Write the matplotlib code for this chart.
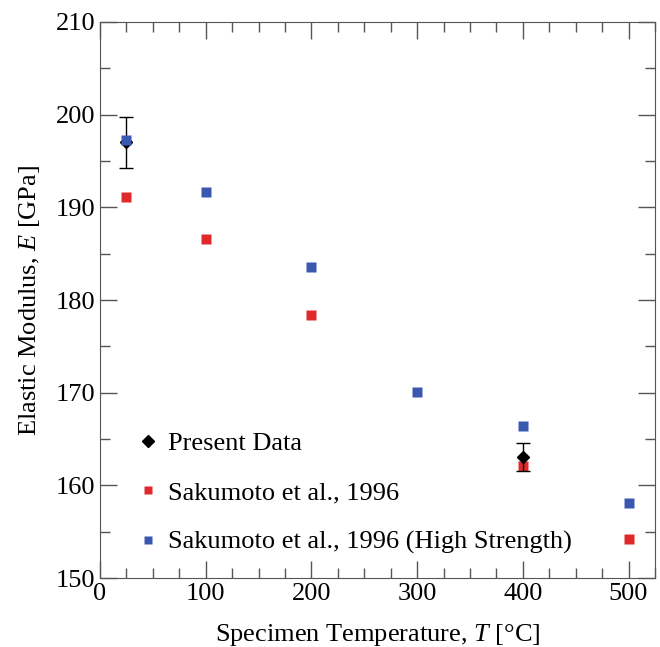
import numpy as np
import matplotlib
matplotlib.use("Agg")
import matplotlib.pyplot as plt
from matplotlib.ticker import MultipleLocator
from matplotlib.lines import Line2D

plt.rcParams['font.family'] = ['Liberation Serif', 'DejaVu Serif']
plt.rcParams['mathtext.fontset'] = 'custom'
plt.rcParams['mathtext.rm'] = 'Liberation Serif'
plt.rcParams['mathtext.it'] = 'Liberation Serif:italic'

# present data
present_T = [25, 400]
present_E = [197.0, 163.1]
present_err = [2.8, 1.5]

# Sakumoto et al., 1996
saku_T = [25, 100, 200, 400, 500]
saku_E = [191.1, 186.6, 178.4, 162.1, 154.2]

# Sakumoto et al., 1996 (High Strength)
saku_hs_T = [25, 100, 200, 300, 400, 500]
saku_hs_E = [197.3, 191.7, 183.6, 170.1, 166.4, 158.1]

labels = ['Present Data', 'Sakumoto et al., 1996',
          'Sakumoto et al., 1996 (High Strength)']

red = '#e02a2a'
blue = '#3a58b0'

fig = plt.figure(figsize=(6.6, 6.47), dpi=100)
ax = fig.add_axes([0.1515, 0.1066, 0.8409, 0.8594])

ax.plot(saku_T, saku_E, 's', color=red, ms=6.5, mec='none', zorder=2)
ax.errorbar(present_T, present_E, yerr=present_err, fmt='D', color='black',
            ms=6.5, capsize=5, elinewidth=1, capthick=1, zorder=3)
ax.plot(saku_hs_T, saku_hs_E, 's', color=blue, ms=6.5, mec='none', zorder=4)

ax.set_xlim(0, 525)
ax.set_ylim(150, 210)
ax.xaxis.set_major_locator(MultipleLocator(100))
ax.xaxis.set_minor_locator(MultipleLocator(25))
ax.yaxis.set_major_locator(MultipleLocator(10))
ax.yaxis.set_minor_locator(MultipleLocator(5))
ax.tick_params(which='both', direction='in', top=True, right=True,
               labelsize=19, color='#555555')
ax.tick_params(which='major', length=12, width=1)
ax.tick_params(which='minor', length=7, width=1)
for s in ax.spines.values():
    s.set_color('#555555')

ax.set_xlabel('Specimen Temperature, $\\mathit{T}$ [°C]', fontsize=19,
              labelpad=12)
ax.set_ylabel('Elastic Modulus, $\\mathit{E}$ [GPa]', fontsize=19,
              labelpad=10)

handles = [Line2D([], [], ls='none', marker='D', color='black', ms=6),
           Line2D([], [], ls='none', marker='s', color=red, mec='none', ms=6),
           Line2D([], [], ls='none', marker='s', color=blue, mec='none', ms=6)]
ax.legend(handles, labels, loc='lower left', bbox_to_anchor=(0.03, 0.0),
          frameon=False, fontsize=19, handlelength=0.6, handletextpad=0.45,
          labelspacing=0.98)

fig.savefig('out.png', dpi=100)
